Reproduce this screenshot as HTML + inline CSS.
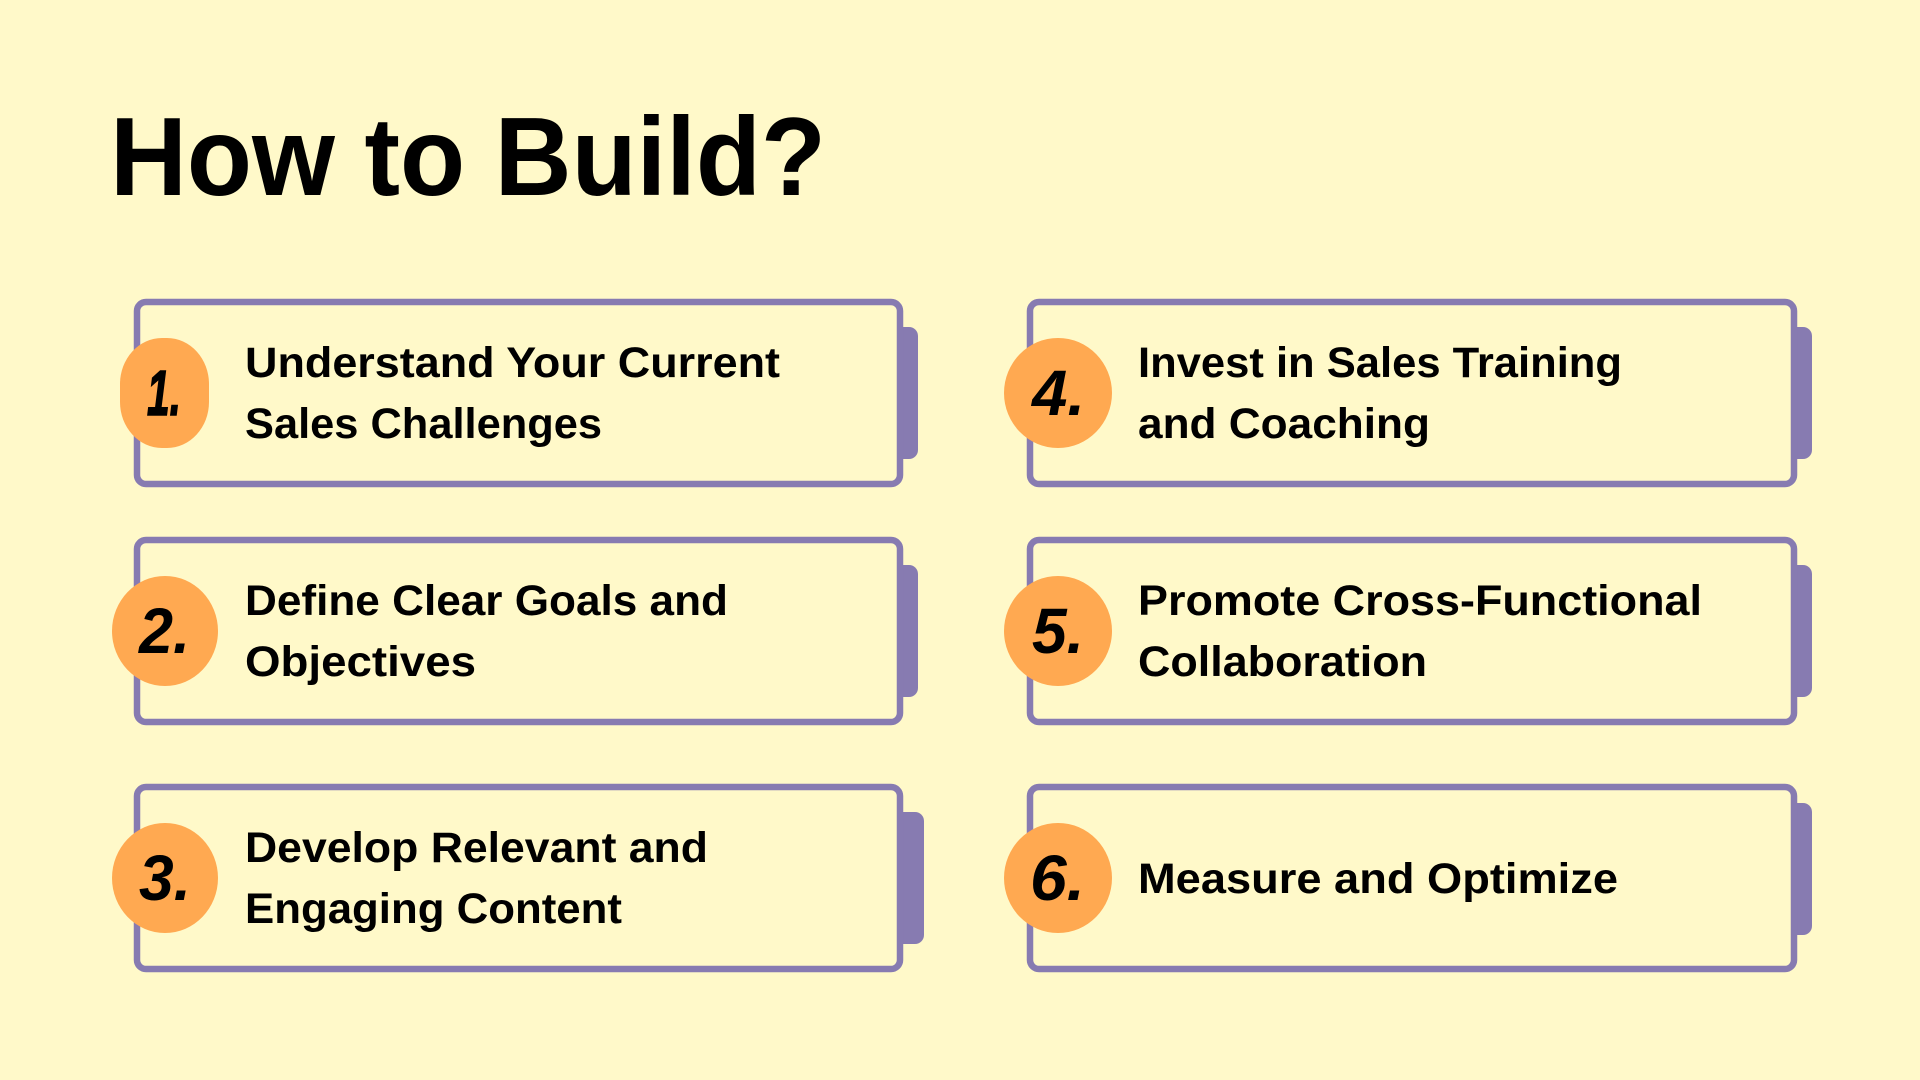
<!DOCTYPE html>
<html><head><meta charset="utf-8"><title>How to Build?</title>
<style>html,body{margin:0;padding:0;background:#FFF9C9}svg{display:block}
text{font-family:"Liberation Sans",sans-serif;font-weight:700;fill:#000}
.t{font-size:43px}.n{font-size:64px;font-style:italic}</style></head>
<body>
<svg width="1920" height="1080" viewBox="0 0 1920 1080" xmlns="http://www.w3.org/2000/svg">
<rect width="1920" height="1080" fill="#FFF9C9"/>
<text x="110" y="195" font-size="111" textLength="716" lengthAdjust="spacingAndGlyphs">How to Build?</text>
<g fill="#877BB1">
<rect x="890" y="327" width="28" height="132" rx="9"/>
<rect x="890" y="565" width="28" height="132" rx="9"/>
<rect x="890" y="812" width="34" height="132" rx="9"/>
<rect x="1784" y="327" width="28" height="132" rx="9"/>
<rect x="1784" y="565" width="28" height="132" rx="9"/>
<rect x="1784" y="803" width="28" height="132" rx="9"/>
</g>
<g fill="#FFF9C9" stroke="#877BB1" stroke-width="6.5">
<rect x="137" y="302" width="763" height="182" rx="9"/>
<rect x="137" y="540" width="763" height="182" rx="9"/>
<rect x="137" y="787" width="763" height="182" rx="9"/>
<rect x="1030" y="302" width="764" height="182" rx="9"/>
<rect x="1030" y="540" width="764" height="182" rx="9"/>
<rect x="1030" y="787" width="764" height="182" rx="9"/>
</g>
<g fill="#FFA951">
<rect x="120" y="338" width="89" height="110" rx="42" ry="46"/>
<ellipse cx="165" cy="631" rx="53" ry="55"/>
<ellipse cx="165" cy="878" rx="53" ry="55"/>
<ellipse cx="1058" cy="393" rx="54" ry="55"/>
<ellipse cx="1058" cy="631" rx="54" ry="55"/>
<ellipse cx="1058" cy="878" rx="54" ry="55"/>
</g>
<text class="n" x="147" y="415" textLength="34" lengthAdjust="spacingAndGlyphs" stroke="#000" stroke-width="1.5">1.</text>
<text class="n" x="139" y="653" textLength="51" lengthAdjust="spacingAndGlyphs">2.</text>
<text class="n" x="139" y="900" textLength="52" lengthAdjust="spacingAndGlyphs">3.</text>
<text class="n" x="1032" y="415" textLength="53" lengthAdjust="spacingAndGlyphs">4.</text>
<text class="n" x="1032" y="653" textLength="52" lengthAdjust="spacingAndGlyphs">5.</text>
<text class="n" x="1030" y="900" textLength="55" lengthAdjust="spacingAndGlyphs">6.</text>
<text class="t" x="245" y="377" textLength="535" lengthAdjust="spacingAndGlyphs">Understand Your Current</text>
<text class="t" x="245" y="438" textLength="357" lengthAdjust="spacingAndGlyphs">Sales Challenges</text>
<text class="t" x="245" y="615" textLength="483" lengthAdjust="spacingAndGlyphs">Define Clear Goals and</text>
<text class="t" x="245" y="676" textLength="231" lengthAdjust="spacingAndGlyphs">Objectives</text>
<text class="t" x="245" y="862" textLength="463" lengthAdjust="spacingAndGlyphs">Develop Relevant and</text>
<text class="t" x="245" y="923" textLength="377" lengthAdjust="spacingAndGlyphs">Engaging Content</text>
<text class="t" x="1138" y="377" textLength="484" lengthAdjust="spacingAndGlyphs">Invest in Sales Training</text>
<text class="t" x="1138" y="438" textLength="292" lengthAdjust="spacingAndGlyphs">and Coaching</text>
<text class="t" x="1138" y="615" textLength="564" lengthAdjust="spacingAndGlyphs">Promote Cross-Functional</text>
<text class="t" x="1138" y="676" textLength="289" lengthAdjust="spacingAndGlyphs">Collaboration</text>
<text class="t" x="1138" y="893" textLength="480" lengthAdjust="spacingAndGlyphs">Measure and Optimize</text>
</svg>
</body></html>
